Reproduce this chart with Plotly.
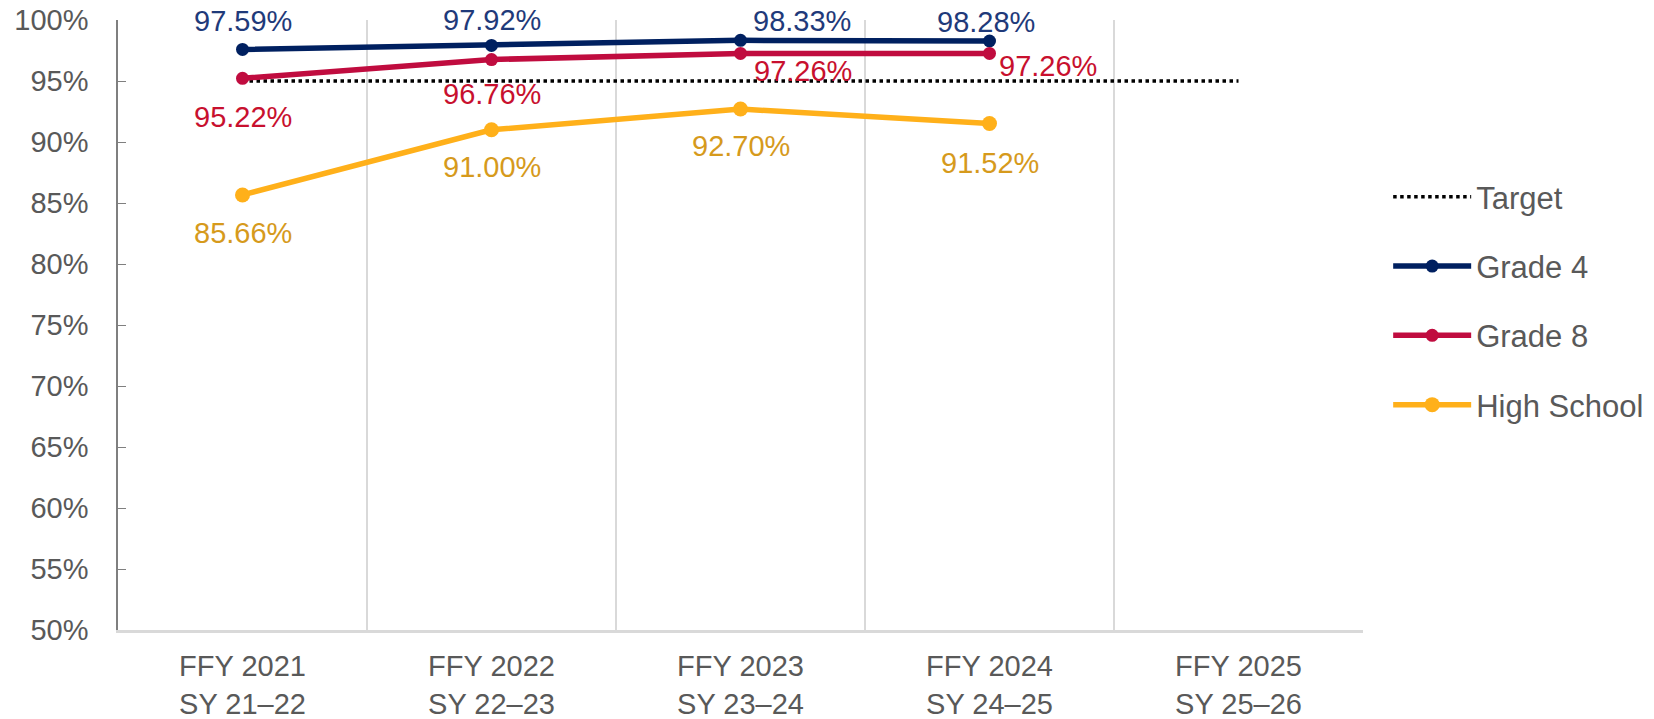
import plotly.graph_objects as go

categories = ["FFY 2021<br>SY 21–22", "FFY 2022<br>SY 22–23", "FFY 2023<br>SY 23–24",
              "FFY 2024<br>SY 24–25", "FFY 2025<br>SY 25–26"]
target = [95, 95, 95, 95, 95]
grade4 = [97.59, 97.92, 98.33, 98.28, None]
grade8 = [95.22, 96.76, 97.26, 97.26, None]
high_school = [85.66, 91.00, 92.70, 91.52, None]

FONT = "Arial, Liberation Sans, sans-serif"
GRAY = "#595959"

fig = go.Figure()
fig.add_trace(go.Scatter(x=categories, y=target, name="Target", mode="lines",
                         line=dict(color="black", width=3.5, dash="dot"),
                         legendgroup="a", cliponaxis=False))

series = [
    ("Grade 4", grade4, "#002060", "#1f3a7a", 13,
     [(0, 28), (0, 25), (61, 19), (-4, 19)]),
    ("Grade 8", grade8, "#c00c3f", "#c8102e", 13,
     [(0, -39), (0, -34), (62, -18), (58, -13)]),
    ("High School", high_school, "#ffb01a", "#d69a1c", 15,
     [(0, -38), (0, -37), (0, -37), (0, -40)]),
]
for i, (name, vals, col, tcol, msize, shifts) in enumerate(series):
    fig.add_trace(go.Scatter(x=categories, y=vals, name=name, mode="lines+markers",
                             line=dict(color=col, width=5.5),
                             marker=dict(color=col, size=msize),
                             legendgroup="g%d" % i, cliponaxis=False))
    for j, v in enumerate(vals):
        if v is None:
            continue
        fig.add_annotation(x=categories[j], y=v, text=f"{v:.2f}%", showarrow=False,
                           xshift=shifts[j][0], yshift=shifts[j][1],
                           font=dict(family=FONT, size=29, color=tcol))

fig.update_layout(
    width=1646, height=711,
    margin=dict(l=110, r=291, t=12, b=89, autoexpand=False),
    paper_bgcolor="white", plot_bgcolor="white",
    font=dict(family=FONT, size=28, color=GRAY),
    legend=dict(xref="container", yref="container", x=0.8385, y=0.772,
                xanchor="left", yanchor="top", tracegroupgap=26,
                font=dict(size=31, color=GRAY), itemwidth=78),
    showlegend=True,
)
fig.update_xaxes(type="category", tickson="boundaries", showgrid=True,
                 gridcolor="#d9d9d9", gridwidth=2, showline=True, linecolor="#d9d9d9",
                 linewidth=3, ticks="", tickfont=dict(size=29, color=GRAY),
                 ticklabelstandoff=8, ticklabeloverflow="allow",
                 range=[-0.5, 4.5], automargin=False)
fig.update_yaxes(range=[50, 100], dtick=5, ticksuffix="%", showgrid=False,
                 showline=True, linecolor="#7f7f7f", linewidth=1.5,
                 ticks="inside", ticklen=8, tickcolor="#7f7f7f",
                 ticklabelstandoff=22, ticklabeloverflow="allow",
                 tickfont=dict(size=29, color=GRAY), zeroline=False, automargin=False)

fig.write_html("out.html")
